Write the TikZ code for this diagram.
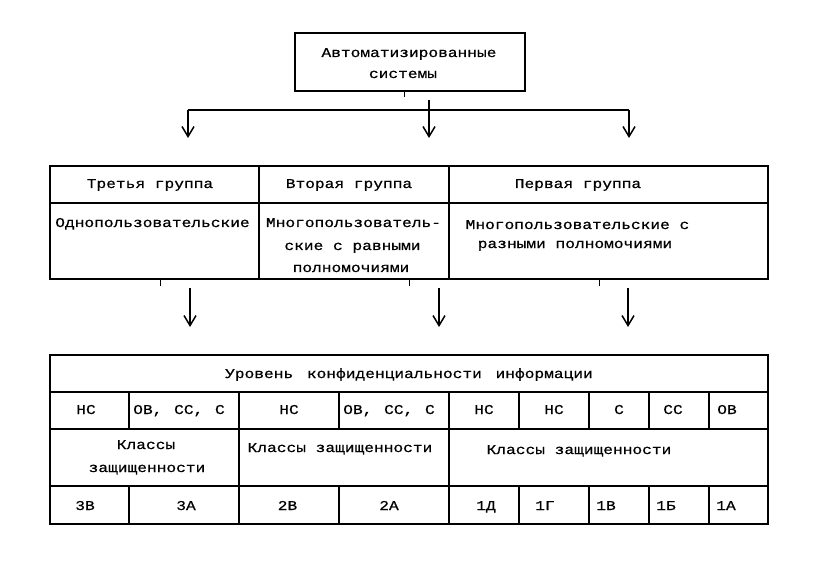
\documentclass[tikz,border=0pt]{standalone}
\usepackage{fontspec}
\newfontfamily\tw[FakeStretch=1.2,FakeBold=0.6]{Liberation Mono}
\usetikzlibrary{arrows.meta}
\begin{document}
\begin{tikzpicture}[x=1pt,y=-1pt,
  txt/.style={font=\tw\fontsize{13.5}{20}\selectfont, inner sep=0pt, text height=8pt, text depth=0pt},
  frame/.style={line width=1.4pt, line join=miter},
  arr/.style={line width=1.5pt, -{Straight Barb[length=10pt,width=12pt,line width=1.5pt]}},
  tick/.style={line width=1pt}]
\fill[white] (0,0) rectangle (830,580);
\useasboundingbox (0,0) rectangle (830,580);

% top box
\node[frame, draw, minimum width=230pt, minimum height=58pt, inner sep=0pt] (top) at (410,62) {};
\node[txt] (t1) at (409,53) {Автоматизированные};
\node[txt] (t2) at (403,74) {системы};

% connector from top box
\coordinate (tk0) at (404,91); \coordinate (tk1) at (404,97);
\draw[tick] (tk0) -- (tk1);
\coordinate (hl) at (188,110); \coordinate (hr) at (629,110);
\coordinate (al) at (188,138); \coordinate (ar) at (629,138);
\coordinate (mt) at (429,100); \coordinate (mb) at (429,138);
\draw[line width=1.4pt] (hl) -- (hr);
\draw[arr] (hl) -- (al);
\draw[arr] (hr) -- (ar);
\draw[arr] (mt) -- (mb);

% middle table
\draw[frame] (50,166) rectangle (768,279);
\draw[frame] (50,203) -- (768,203);
\draw[frame] (259,166) -- (259,279);
\draw[frame] (449,166) -- (449,279);
\node[txt] (g3) at (150,184) {Третья группа};
\node[txt] (g2) at (349,184) {Вторая группа};
\node[txt] (g1) at (578,184) {Первая группа};
\node[txt] (d3) at (152.5,223) {Однопользовательские};
\node[txt] (d2a) at (353.5,223) {Многопользователь-};
\node[txt] (d2b) at (352.5,246) {ские с равными};
\node[txt] (d2c) at (351,268) {полномочиями};
\node[txt] (d1a) at (577.5,225) {Многопользовательские с};
\node[txt] (d1b) at (575,244) {разными полномочиями};

% ticks and arrows below middle table
\foreach \x [count=\i] in {160,409,599} {
  \coordinate (bt\i) at (\x,279); \coordinate (be\i) at (\x,286);
  \draw[tick] (bt\i) -- (be\i);
}
\foreach \x [count=\i] in {190,439,628} {
  \coordinate (as\i) at (\x,288); \coordinate (ae\i) at (\x,327);
  \draw[arr] (as\i) -- (ae\i);
}

% bottom table
\draw[frame] (50,355) rectangle (768,524);
\draw[frame] (50,392) -- (768,392);
\draw[frame] (50,429) -- (768,429);
\draw[frame] (50,486) -- (768,486);
\foreach \x in {129,339,519,589,649,709} {
  \draw[frame] (\x,392) -- (\x,429);
  \draw[frame] (\x,486) -- (\x,524);
}
\foreach \x in {239,449} \draw[frame] (\x,392) -- (\x,524);

\node[txt] (lvl) at (409,374) {Уровень\hspace{4pt} конфиденциальности\hspace{4pt} информации};

\node[txt] (r1) at (86,410) {НС};
\node[txt] (r2) at (179,410) {ОВ,\hspace{2pt} СС,\hspace{2pt} С};
\node[txt] (r3) at (289,410) {НС};
\node[txt] (r4) at (389,410) {ОВ,\hspace{2pt} СС,\hspace{2pt} С};
\node[txt] (r5) at (484,410) {НС};
\node[txt] (r6) at (554,410) {НС};
\node[txt] (r7) at (619,410) {С};
\node[txt] (r8) at (673,410) {СС};
\node[txt] (r9) at (727,410) {ОВ};

\node[txt] (k3a) at (146,445) {Классы};
\node[txt] (k3b) at (147,468) {защищенности};
\node[txt] (k2) at (340,448) {Классы защищенности};
\node[txt] (k1) at (579,450) {Классы защищенности};

\node[txt] (c1) at (85,506) {3В};
\node[txt] (c2) at (186,506) {3А};
\node[txt] (c3) at (287.5,506) {2В};
\node[txt] (c4) at (389,506) {2А};
\node[txt] (c5) at (486,506) {1Д};
\node[txt] (c6) at (545,506) {1Г};
\node[txt] (c7) at (606,506) {1В};
\node[txt] (c8) at (666,506) {1Б};
\node[txt] (c9) at (726,506) {1А};
\end{tikzpicture}
\end{document}
